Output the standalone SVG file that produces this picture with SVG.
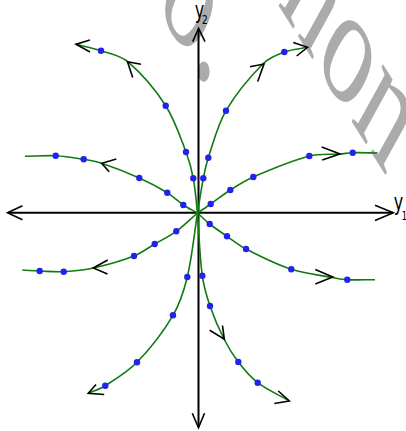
<svg xmlns="http://www.w3.org/2000/svg" width="406" height="431" viewBox="0 0 406 431">
<style>
.wm{font-family:"Liberation Serif",serif;font-size:100px;fill:#ababab}
.axis{fill:none;stroke:#000;stroke-width:2}
.chev{fill:none;stroke:#000;stroke-width:1.6;stroke-linejoin:miter}
.curve{fill:none;stroke:#117a11;stroke-width:1.6}
.dot{fill:#2222ee}
.lbl{font-family:"DejaVu Sans",sans-serif;fill:#000}
</style>
<rect width="406" height="431" fill="#fff"/>
<g id="watermark">
<text class="wm" transform="scale(1,1.7) translate(122.5,-27.4) rotate(43)">co.</text>
<text class="wm" transform="scale(1,1.7) translate(276.9,1.7) rotate(43)">non</text>
</g>
<g id="axes">
<path class="axis" d="M8,212.8 H393"/>
<path class="axis" d="M198.5,29 V427"/>
<path class="chev" d="M22.5,205.8 L7.5,212.8 L22.5,219.8"/>
<path class="chev" d="M375,205.3 L393.3,212.8 L375,220.5"/>
<path class="chev" d="M192.7,41.7 L198.6,28.5 L205,41.7"/>
<path class="chev" d="M192.3,413.3 L198.5,427.7 L204.5,413.3"/>
</g>
<g id="labels">
<text class="lbl" font-size="16" transform="translate(194.8,17.5) scale(1,1.45)">y</text>
<text class="lbl" font-size="9" transform="translate(202,24) scale(1,1.45)">2</text>
<text class="lbl" font-size="16" transform="translate(393.8,210.2) scale(1,1.45)">y</text>
<text class="lbl" font-size="9" transform="translate(401.5,220) scale(1,1.45)">1</text>
</g>
<g id="connectors">
<path id="s1" class="curve" d="M197.5,213 C199.4,201.4 201.1,189.8 203.3,178.3 C204.7,171.4 206.1,164.4 208.3,157.7 C213.6,141.8 217.6,125.2 226,110.7 C236.1,93.4 249.2,77.7 263.3,63.5 C268.9,57.8 276.8,54.8 284.3,52 C291.7,49.3 299.8,48.9 307.5,47.3"/>
<path id="s2" class="curve" d="M197.5,213 C196.1,201.4 195.5,189.8 193.3,178.3 C191.6,169.4 189.2,160.5 186,152 C180,136.3 174.8,119.9 165.7,105.7 C155.2,89.4 142.5,74.3 127.7,61.7 C120.4,55.5 110.1,53.8 101,50.7 C92.8,48 84.3,46.4 76,44.3"/>
<path id="s3" class="curve" d="M197.5,213 C194.1,234.3 192.3,256 187.3,277 C184.1,290.2 179.9,303.6 173,315.3 C163,332.3 150.7,348.1 137,362.3 C127.9,371.8 116.4,378.7 105.3,385.7 C100.1,389 94,390.8 88.3,393.3"/>
<path id="s4" class="curve" d="M197.5,213 C199.1,233.9 199.5,254.9 202.3,275.7 C203.7,286 206.6,296.1 210,306 C213.9,317.3 218.6,328.3 224,339 C228.1,347.1 232.8,354.9 238.3,362 C244.1,369.5 250.2,377 257.7,382.7 C267.4,390.1 278.8,394.9 289.3,401"/>
<path id="h1" class="curve" d="M197.5,213 C201.9,210 206.3,207.1 210.7,204 C217.3,199.4 223.5,194.3 230.3,190 C237.7,185.3 245.2,180.5 253.3,177 C271.6,169.1 290,161.1 309.3,156 C319.2,153.4 329.8,154.8 340,154 C344.2,153.7 348.5,152.8 352.7,152.7 C361,152.5 369.4,152.9 377.7,153"/>
<path id="h2" class="curve" d="M197.5,213 C192.8,210.3 187.8,208 183.3,205 C177.7,201.2 173,196.3 167.3,192.7 C158.3,187.2 148.9,182.3 139.3,178 C127,172.5 114.5,167.6 101.7,163.3 C95.9,161.3 89.8,160.3 83.7,159.3 C74.4,157.8 65.1,156.2 55.7,155.7 C45.5,155.2 35.2,156.1 25,156.3"/>
<path id="h3" class="curve" d="M197.5,213 C190.4,219.1 183.9,225.8 176.3,231.3 C169.5,236.2 161.9,239.8 154.7,244 C147.8,248 141.4,253.1 134,256 C120.8,261.2 107.1,264.9 93.3,268 C83.6,270.2 73.6,271.1 63.7,271.7 C55.7,272.2 47.7,271.3 39.7,271 C33.9,270.8 28.1,270.3 22.3,270"/>
<path id="h4" class="curve" d="M197.5,213 C201.6,216.7 205.4,220.6 209.7,224 C215.3,228.4 221.2,232.3 227,236.3 C233.3,240.6 239.2,245.5 246,249 C260.7,256.6 275.6,264.1 291.3,269.3 C304.6,273.7 318.9,274.9 332.7,277.5 C337.6,278.4 342.3,279.4 347.3,279.7 C356.5,280.2 365.8,279.7 375,279.7"/>
<path class="chev" d="M250,66.7 L264,64 L257.7,81.5"/>
<path class="chev" d="M293.3,42.5 L307.5,47.3 L296.7,56"/>
<path class="chev" d="M141,64.2 L127.5,61.7 L132.7,77.5"/>
<path class="chev" d="M90,40 L76,44.3 L90,52"/>
<path class="chev" d="M96,384.5 L88.3,393.3 L104.2,394.5"/>
<path class="chev" d="M209.7,330.3 L224.3,339.2 L222.5,325.5"/>
<path class="chev" d="M278.3,391 L289.3,401 L274.3,403.5"/>
<path class="chev" d="M321.7,147 L340,154 L322.2,160"/>
<path class="chev" d="M116.3,159 L101.7,163.3 L109.2,171.7"/>
<path class="chev" d="M107.7,260 L93.3,268 L107.5,274"/>
<path class="chev" d="M315.3,269.6 L332.7,277 L315.3,284"/>
</g>
<g id="dots">
<circle class="dot" cx="203.3" cy="178.3" r="3.2"/>
<circle class="dot" cx="208.3" cy="157.7" r="3.2"/>
<circle class="dot" cx="226" cy="110.7" r="3.2"/>
<circle class="dot" cx="284.3" cy="52" r="3.2"/>
<circle class="dot" cx="193.3" cy="178.3" r="3.2"/>
<circle class="dot" cx="186" cy="152" r="3.2"/>
<circle class="dot" cx="165.7" cy="105.7" r="3.2"/>
<circle class="dot" cx="101" cy="50.7" r="3.2"/>
<circle class="dot" cx="187.3" cy="277" r="3.2"/>
<circle class="dot" cx="173" cy="315.3" r="3.2"/>
<circle class="dot" cx="137" cy="362.3" r="3.2"/>
<circle class="dot" cx="105.3" cy="385.7" r="3.2"/>
<circle class="dot" cx="202.3" cy="275.7" r="3.2"/>
<circle class="dot" cx="210" cy="306" r="3.2"/>
<circle class="dot" cx="238.3" cy="362" r="3.2"/>
<circle class="dot" cx="257.7" cy="382.7" r="3.2"/>
<circle class="dot" cx="210.7" cy="204" r="3.2"/>
<circle class="dot" cx="230.3" cy="190" r="3.2"/>
<circle class="dot" cx="253.3" cy="177" r="3.2"/>
<circle class="dot" cx="309.3" cy="156" r="3.2"/>
<circle class="dot" cx="352.7" cy="152.7" r="3.2"/>
<circle class="dot" cx="183.3" cy="205" r="3.2"/>
<circle class="dot" cx="167.3" cy="192.7" r="3.2"/>
<circle class="dot" cx="139.3" cy="178" r="3.2"/>
<circle class="dot" cx="83.7" cy="159.3" r="3.2"/>
<circle class="dot" cx="55.7" cy="155.7" r="3.2"/>
<circle class="dot" cx="176.3" cy="231.3" r="3.2"/>
<circle class="dot" cx="154.7" cy="244" r="3.2"/>
<circle class="dot" cx="134" cy="256" r="3.2"/>
<circle class="dot" cx="63.7" cy="271.7" r="3.2"/>
<circle class="dot" cx="39.7" cy="271" r="3.2"/>
<circle class="dot" cx="209.7" cy="224" r="3.2"/>
<circle class="dot" cx="227" cy="236.3" r="3.2"/>
<circle class="dot" cx="246" cy="249" r="3.2"/>
<circle class="dot" cx="291.3" cy="269.3" r="3.2"/>
<circle class="dot" cx="347.3" cy="279.7" r="3.2"/>
</g>
</svg>
